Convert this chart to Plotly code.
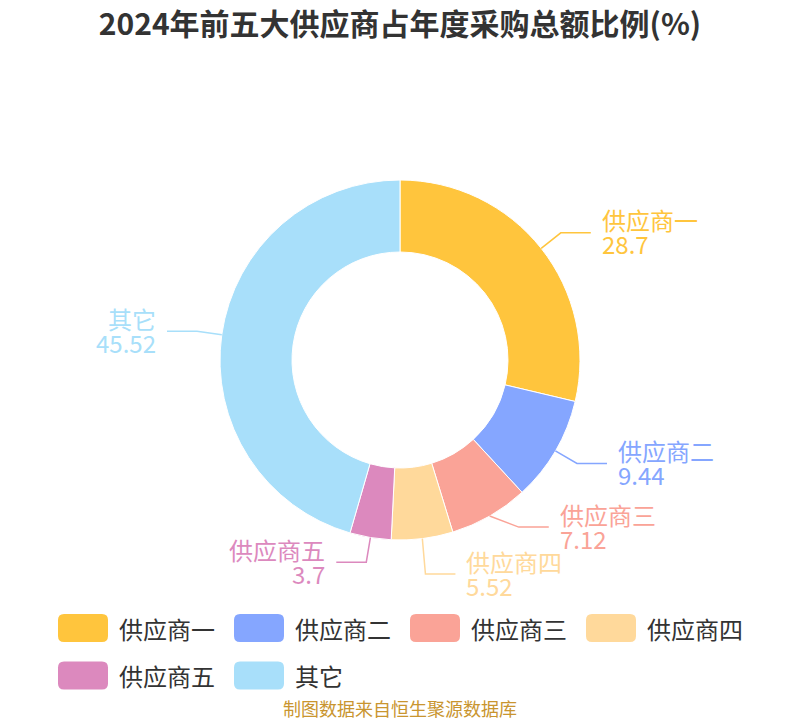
import numpy as np
import plotly.graph_objects as go

# data
suppliers = ["供应商一", "供应商二", "供应商三", "供应商四", "供应商五", "其它"]
shares = [28.7, 9.44, 7.12, 5.52, 3.7, 45.52]
colors = ["#FFC53D", "#85A6FF", "#FAA397", "#FFD99B", "#DC89BE", "#A8DFFA"]

title = "2024年前五大供应商占年度采购总额比例(%)"
source = "制图数据来自恒生聚源数据库"
FONT = "Noto Sans CJK SC"

W, H = 800, 720
CX, CY, R = 400, 360, 180


def px(x):
    return x / W


def py(y):
    return 1 - y / H


fig = go.Figure()

fig.add_trace(go.Pie(
    labels=suppliers, values=shares, sort=False, direction="clockwise",
    hole=0.6, textinfo="none", showlegend=False,
    marker=dict(colors=colors, line=dict(color="white", width=1)),
    domain=dict(x=[px(CX - R), px(CX + R)], y=[py(CY + R), py(CY - R)]),
))

# label leader lines, from the slice angles
total = sum(shares)
cum = np.cumsum([0] + shares[:-1])
mid = (cum + np.array(shares) / 2) / total * 2 * np.pi
R1 = R + 25
LEN2 = 30
GAP = 47

pts = []
for i, a in enumerate(mid):
    side = 1 if np.sin(a) >= 0 else -1
    pts.append(dict(i=i, side=side, a=a,
                    x0=CX + R * np.sin(a), y0=CY - R * np.cos(a),
                    x1=CX + R1 * np.sin(a), y1=CY - R1 * np.cos(a)))

# push labels apart on each side
for side in (1, -1):
    grp = sorted([p for p in pts if p["side"] == side], key=lambda p: p["y1"])
    for _ in range(30):
        for a_, b_ in zip(grp, grp[1:]):
            d = b_["y1"] - a_["y1"]
            if d < GAP:
                shift = (GAP - d) / 2
                a_["y1"] -= shift
                b_["y1"] += shift
    for p in grp:
        dy = p["y1"] - CY
        if abs(dy) < R1:
            p["x1"] = CX + side * np.sqrt(R1 ** 2 - dy ** 2)

shapes = []
annotations = []
for p in pts:
    i, side = p["i"], p["side"]
    x2 = p["x1"] + side * LEN2
    shapes.append(dict(
        type="path", xref="paper", yref="paper",
        path=f"M {px(p['x0'])},{py(p['y0'])} L {px(p['x1'])},{py(p['y1'])} L {px(x2)},{py(p['y1'])}",
        line=dict(color=colors[i], width=1.5),
    ))
    anchor = "left" if side > 0 else "right"
    tx = x2 + side * 9
    annotations.append(dict(
        x=px(tx), y=py(p["y1"] - 13), xref="paper", yref="paper",
        text=suppliers[i], showarrow=False, xanchor=anchor, yanchor="middle",
        font=dict(family=FONT, size=24, color=colors[i]),
    ))
    annotations.append(dict(
        x=px(tx), y=py(p["y1"] + 11), xref="paper", yref="paper",
        text=f"{shares[i]:g}", showarrow=False, xanchor=anchor, yanchor="middle",
        font=dict(family=FONT, size=24, color=colors[i]),
    ))


def rounded_rect(x0, y0, x1, y1, r):
    return (f"M {px(x0 + r)},{py(y0)} L {px(x1 - r)},{py(y0)} "
            f"Q {px(x1)},{py(y0)} {px(x1)},{py(y0 + r)} L {px(x1)},{py(y1 - r)} "
            f"Q {px(x1)},{py(y1)} {px(x1 - r)},{py(y1)} L {px(x0 + r)},{py(y1)} "
            f"Q {px(x0)},{py(y1)} {px(x0)},{py(y1 - r)} L {px(x0)},{py(y0 + r)} "
            f"Q {px(x0)},{py(y0)} {px(x0 + r)},{py(y0)} Z")


# legend (rounded swatches)
for i, name in enumerate(suppliers):
    col, row = i % 4, i // 4
    lx = 58 + col * 176
    ly = 628 + row * 47.5
    shapes.append(dict(
        type="path", xref="paper", yref="paper",
        path=rounded_rect(lx, ly - 14, lx + 50, ly + 14, 6),
        fillcolor=colors[i], line=dict(width=0),
    ))
    annotations.append(dict(
        x=px(lx + 59), y=py(ly), xref="paper", yref="paper",
        text=name, showarrow=False, xanchor="left", yanchor="middle",
        font=dict(family=FONT, size=24, color="#333333"),
    ))

annotations.append(dict(
    x=px(400), y=py(708), xref="paper", yref="paper", text=source,
    showarrow=False, xanchor="center", yanchor="middle",
    font=dict(family=FONT, size=18, color="#C9952F"),
))

fig.update_layout(
    width=W, height=H,
    margin=dict(l=0, r=0, t=0, b=0),
    paper_bgcolor="white", plot_bgcolor="white",
    title=dict(text=f"<b>{title}</b>", x=0.5, xanchor="center",
               y=py(24), yanchor="middle",
               font=dict(family=FONT, size=30, color="#333333")),
    shapes=shapes, annotations=annotations,
)

# drop the default body margin so the figure fills the window
fig.write_html("out.html", config={"displayModeBar": False},
               post_script="document.body.style.margin='0';")
